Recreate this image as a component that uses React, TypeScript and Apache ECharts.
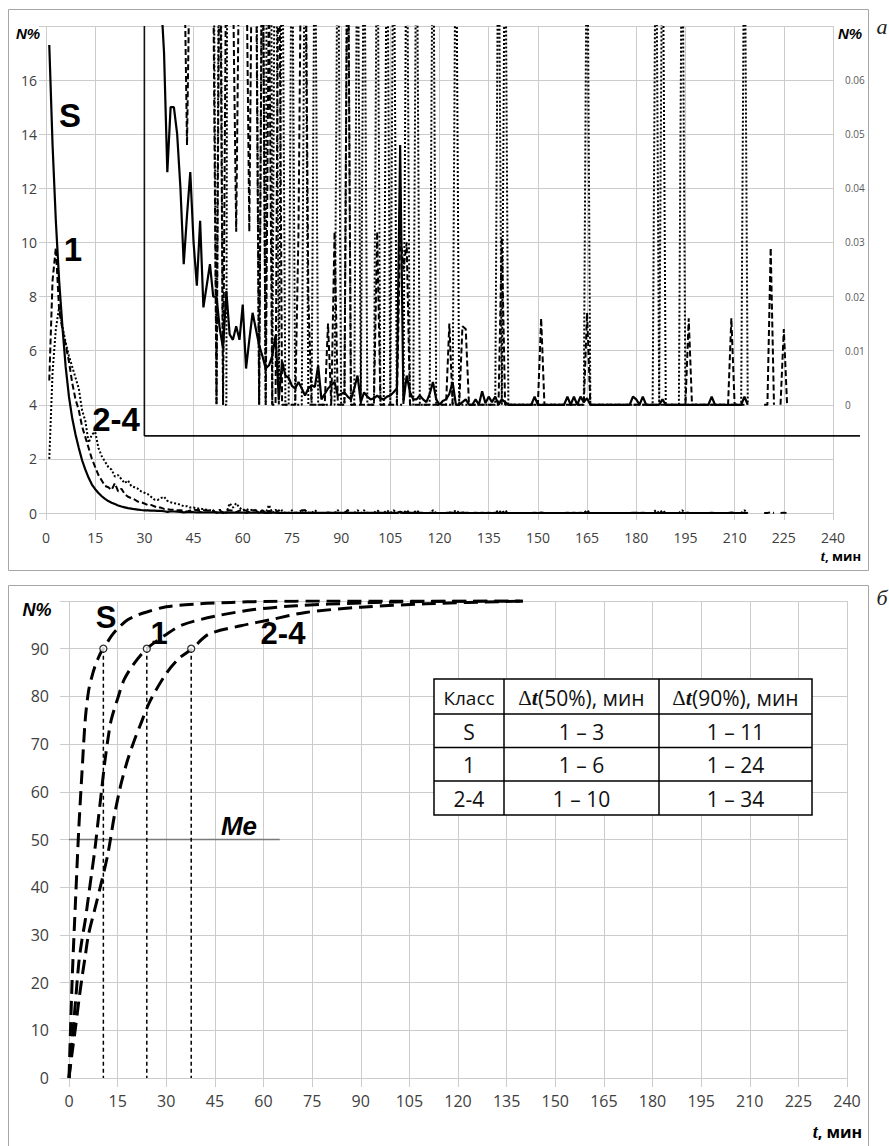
import React, { useEffect, useRef } from "react";
import * as echarts from "echarts";

const FONT = "'Open Sans', 'DejaVu Sans', sans-serif";
const ARIAL = "'Liberation Sans', Arial, sans-serif";
const SERIF = "'Liberation Serif', 'DejaVu Serif', serif";
const INK = "#000";
const GRIDC = "#cccccc";
const LABEL = "#404040";

// ---------- panel а: share N% per minute, t = 1, 2, 3 ... min ----------
const topTimeStart = 1;
const shareS = [
  17.3, 13.6, 10.8, 8.6, 6.9, 5.4, 4.3, 3.5, 2.9, 2.4,
  1.95, 1.6, 1.3, 1.05, 0.88, 0.74, 0.62, 0.52, 0.44, 0.38,
  0.33, 0.28, 0.24, 0.21, 0.18, 0.16, 0.14, 0.125, 0.11, 0.1,
  0.095, 0.09, 0.085, 0.08, 0.076, 0.065, 0.043, 0.055, 0.055, 0.05,
  0.04, 0.026, 0.035, 0.043, 0.03, 0.022, 0.034, 0.018, 0.022, 0.026,
  0.02, 0.02, 0.014, 0.0105, 0.021, 0.013, 0.012, 0.0145, 0.012, 0.0185,
  0.0067, 0.012, 0.017, 0.014, 0.011, 0.009, 0.0067, 0.0073, 0.009, 0.0128,
  0.001, 0.008, 0.0054, 0.005, 0.0035, 0.003, 0.0042, 0.003, 0.0017, 0.003,
  0.0036, 0.0033, 0.0073, 0.001, 0.002, 0.003, 0.0036, 0.0042, 0.0017, 0.002,
  0.0023, 0.0015, 0.001, 0.003, 0.0054, 0.0005, 0.0023, 0.0015, 0.001, 0.0012,
  0.0017, 0.0012, 0.001, 0.0015, 0.0017, 0.0023, 0.003, 0.048, 0.0005, 0.0054,
  0.0023, 0.001, 0.001, 0.0017, 0.001, 0.0005, 0.002, 0.0042, 0.001, 0,
  0.0007, 0.001, 0.002, 0.0042, 0, 0, 0.0005, 0.001, 0, 0,
  0.001, 0, 0.0025, 0.0003, 0.0015, 0.0005, 0.0015, 0, 0.001, 0.0005,
  0, 0, 0, 0, 0, 0, 0, 0, 0.0015, 0,
  0, 0, 0, 0, 0, 0, 0, 0, 0.0015, 0,
  0.0015, 0, 0.0015, 0.0005, 0.0012, 0, 0, 0, 0, 0,
  0, 0, 0, 0, 0, 0, 0, 0, 0.0015, 0.001,
  0, 0.0015, 0, 0, 0, 0, 0, 0.001, 0, 0,
  0, 0, 0, 0, 0, 0, 0, 0, 0, 0,
  0, 0, 0.0015, 0, 0, 0, 0, 0, 0, 0,
  0, 0, 0.0015, 0,
];
const share1 = [
  4.9, 8.6, 9.8, 7.5, 6.8, 6.2, 5.6, 4.8, 4.2, 3.8,
  3.2, 2.8, 2.4, 2.0, 1.7, 1.4, 1.2, 1.0, 0.95, 0.85,
  1.1, 0.8, 0.9, 0.7, 0.6, 0.55, 0.5, 0.42, 0.4, 0.35,
  0.3, 0.3, 0.25, 0.2, 0.2, 0.15, 0.14, 0.12, 0.12, 0.1,
  0.1, 0.09, 0.048, 0.09, 0.12, 0.11, 0.1, 0.1, 0.09, 0.09,
  0.08, 0, 0.1, 0, 0.09, 0.1, 0.08, 0.032, 0.09, 0.1,
  0.09, 0.032, 0.1, 0.09, 0, 0.1, 0, 0.08, 0, 0,
  0.1, 0, 0, 0, 0, 0, 0.032, 0.1, 0.1, 0.02,
  0, 0, 0, 0, 0, 0.015, 0, 0.032, 0, 0,
  0, 0.1, 0, 0, 0, 0, 0, 0, 0, 0,
  0.032, 0, 0, 0, 0, 0, 0, 0.032, 0.025, 0.03,
  0, 0, 0, 0, 0, 0, 0, 0, 0, 0,
  0, 0, 0.015, 0, 0, 0, 0.0145, 0.014, 0, 0,
  0, 0, 0, 0, 0, 0, 0, 0, 0.031, 0,
  0, 0, 0, 0, 0, 0, 0, 0, 0, 0,
  0.016, 0, 0, 0, 0, 0, 0, 0, 0, 0,
  0, 0, 0, 0, 0.017, 0, 0, 0, 0, 0,
  0, 0, 0, 0, 0, 0, 0, 0, 0, 0,
  0, 0, 0, 0, 0, 0, 0, 0, 0, 0,
  0, 0, 0, 0, 0, 0.016, 0, 0, 0, 0,
  0, 0, 0, 0, 0, 0, 0, 0, 0.016, 0,
  0, 0, 0, null, null, null, null, null, 0, 0,
  0.029, 0, null, 0, 0.014, 0,
];
const share24 = [
  2.0, 5.2, 6.8, 7.6, 6.9, 6.3, 5.8, 5.4, 5.0, 4.6,
  3.8, 3.4, 2.6, 2.9, 3.0, 2.4, 2.1, 1.9, 1.7, 1.6,
  1.35, 1.4, 1.25, 1.1, 1.2, 1.0, 0.95, 0.9, 0.8, 0.75,
  0.7, 0.6, 0.5, 0.48, 0.55, 0.6, 0.45, 0.4, 0.36, 0.35,
  0.3, 0.25, 0.25, 0.2, 0.2, 0.17, 0.17, 0.14, 0.12, 0.1,
  0.1, 0, 0.12, 0, 0, 0.36, 0.2, 0.36, 0.2, 0.1,
  0.15, 0.1, 0.12, 0.1, 0, 0.1, 0, 0.3, 0, 0.12,
  0, 0.1, 0, 0, 0.1, 0, 0, 0, 0.1, 0,
  0, 0.1, 0, 0, 0, 0, 0, 0, 0.1, 0,
  0, 0.1, 0, 0, 0.1, 0, 0.1, 0, 0, 0,
  0.1, 0, 0, 0.1, 0, 0.1, 0, 0, 0, 0.1,
  0, 0, 0.1, 0, 0, 0, 0, 0.1, 0, 0,
  0, 0, 0, 0, 0.1, 0, 0, 0, 0, 0,
  0, 0, 0, 0, 0, 0, 0, 0.1, 0, 0.1,
  0, 0, 0, 0, 0, 0, 0, 0, 0, 0,
  0, 0, 0, 0, 0, 0, 0, 0, 0, 0,
  0, 0, 0, 0, 0.1, 0, 0, 0, 0, 0,
  0, 0, 0, 0, 0, 0, 0, 0, 0, 0,
  0, 0, 0, 0, 0, 0.1, 0, 0.1, 0, 0,
  0, 0, 0, 0.1, 0, 0, 0, 0, 0, 0,
  0, 0, 0, 0, 0, 0, 0, 0, 0, 0,
  0, 0, 0.1, 0,
];
const timeAxis = { min: 0, max: 240, step: 15 };
const topLeftAxis = { min: 0, max: 18, step: 2 };
const topRightAxis = { min: -0.02, max: 0.07, step: 0.01, labelMax: 0.06 };
const insetFrame = { t: 30, level: 2.85 };

// ---------- panel б: cumulative N% ----------
const cumTimesS = [0, 1, 2, 3, 4, 5, 6, 7, 8, 9, 10, 11, 13, 15, 18, 21, 24, 30, 40, 50, 60, 80, 100, 120, 140];
const cumS = [0, 21, 37, 52, 64, 75, 81, 84, 86.3, 88, 89.4, 90.4, 92.6, 94.2, 96, 97, 97.7, 98.8, 99.4, 99.7, 99.9, 100, 100, 100, 100];
const cumTimes1 = [0, 1, 2, 3, 4, 5, 6, 7, 8, 9, 10, 11, 12, 13, 15, 17, 20, 24, 30, 35, 45, 57, 70, 90, 110, 140];
const cum1 = [0, 8, 16, 24, 29, 33, 38, 43, 48, 54, 60, 66, 71, 75, 79.5, 83.5, 86.8, 90, 93, 95, 96.8, 98.2, 99, 99.6, 99.9, 100];
const cumTimes24 = [0, 1, 2, 3, 4, 5, 6, 8, 10, 12, 14, 16, 18, 20, 22, 25, 30, 34, 38, 43, 53, 63, 73, 90, 110, 140];
const cum24 = [0, 5.5, 10.5, 16, 21, 25.5, 30, 35.5, 41, 47, 55, 61.5, 66.5, 70.5, 74, 79, 84.8, 88, 90, 93, 94.8, 96.2, 97.6, 98.7, 99.4, 100];
const p90Times = [10.6, 24, 37.7];
const p90Level = 90;
const medianLevel = 50;
const medianSpan = [0, 65];
const bottomYAxis = { min: 0, max: 100, step: 10 };
const tableHeader = ["Класс", "(50%), мин", "(90%), мин"];
const tableRows = [
  ["S", "1 – 3", "1 – 11"],
  ["1", "1 – 6", "1 – 24"],
  ["2-4", "1 – 10", "1 – 34"],
];

const perMinute = (vs: (number | null)[]) => vs.map((v, i) => [topTimeStart + i, v]);
const pairs = (ts: number[], vs: number[]) => ts.map((t, i) => [t, vs[i]]);

const solid = { color: INK, width: 2.2, type: "solid" as const };
const dashed = { color: INK, width: 2, type: [6, 3] as any };
const dotted = { color: INK, width: 2, type: [2, 2] as any };

function buildOption() {
  const timeX = (gridIndex: number, fontSize: number, margin: number, tick: number) => ({
    type: "value",
    gridIndex,
    min: timeAxis.min,
    max: timeAxis.max,
    interval: timeAxis.step,
    axisLine: { show: true, onZero: false, lineStyle: { color: GRIDC } },
    axisTick: { show: true, length: tick, lineStyle: { color: GRIDC } },
    axisLabel: { fontSize, color: LABEL, fontFamily: FONT, margin },
    splitLine: { show: true, lineStyle: { color: GRIDC, width: 1 } },
  });
  const line = (name: string, xi: number, yi: number, data: any[], ls: any, z = 2) => ({
    name,
    type: "line",
    xAxisIndex: xi,
    yAxisIndex: yi,
    data,
    symbol: "none",
    lineStyle: ls,
    connectNulls: false,
    clip: true,
    z,
    silent: true,
  });
  const series: any[] = [
    line("2-4", 0, 0, perMinute(share24), dotted, 2),
    line("1", 0, 0, perMinute(share1), dashed, 3),
    line("S", 0, 0, perMinute(shareS), solid, 4),
    line("2-4 x", 0, 1, perMinute(share24), dotted, 2),
    line("1 x", 0, 1, perMinute(share1), dashed, 3),
    line("S x", 0, 1, perMinute(shareS), solid, 4),
    line("Me", 1, 2, [[medianSpan[0], medianLevel], [medianSpan[1], medianLevel]], { color: "#7a7a7a", width: 1.3 }, 2),
  ];
  p90Times.forEach((t, i) => {
    series.push(line("drop" + i, 1, 2, [[t, p90Level], [t, 0]], { color: INK, width: 1.5, type: [4, 3] }, 3));
  });
  const cumStyle = { color: INK, width: 3, type: [14, 7] as any };
  series.push({ ...line("S cum", 1, 2, pairs(cumTimesS, cumS), cumStyle, 4), smooth: 0.3 });
  series.push({ ...line("1 cum", 1, 2, pairs(cumTimes1, cum1), cumStyle, 4), smooth: 0.3 });
  series.push({ ...line("2-4 cum", 1, 2, pairs(cumTimes24, cum24), cumStyle, 4), smooth: 0.3 });
  series.push({
    type: "scatter",
    xAxisIndex: 1,
    yAxisIndex: 2,
    data: p90Times.map((t) => [t, p90Level]),
    symbol: "circle",
    symbolSize: 7,
    itemStyle: { color: "#fff", borderColor: INK, borderWidth: 1.3 },
    z: 6,
    silent: true,
  });

  return {
    animation: false,
    backgroundColor: "#fff",
    grid: [
      { left: 46, top: 26, width: 787, height: 487, containLabel: false },
      { left: 69, top: 601, width: 778, height: 477, containLabel: false },
    ],
    xAxis: [timeX(0, 14, 17, 7), timeX(1, 16, 15, 9)],
    yAxis: [
      {
        type: "value",
        gridIndex: 0,
        position: "left",
        min: topLeftAxis.min,
        max: topLeftAxis.max,
        interval: topLeftAxis.step,
        axisLine: { show: false },
        axisTick: { show: true, length: 7, lineStyle: { color: GRIDC } },
        axisLabel: {
          fontSize: 14,
          color: LABEL,
          fontFamily: FONT,
          margin: 9,
          formatter: (v: number) => (v >= topLeftAxis.max ? "" : String(v)),
        },
        splitLine: { show: true, lineStyle: { color: GRIDC } },
      },
      {
        type: "value",
        gridIndex: 0,
        position: "right",
        min: topRightAxis.min,
        max: topRightAxis.max,
        interval: topRightAxis.step,
        axisLine: { show: false },
        axisTick: { show: false },
        axisLabel: {
          fontSize: 10,
          color: "#595959",
          fontFamily: FONT,
          margin: 12,
          formatter: (v: number) =>
            v < -1e-9 || v > topRightAxis.labelMax + 1e-9 ? "" : Math.abs(v) < 1e-9 ? "0" : v.toFixed(2),
        },
        splitLine: { show: false },
      },
      {
        type: "value",
        gridIndex: 1,
        min: bottomYAxis.min,
        max: bottomYAxis.max,
        interval: bottomYAxis.step,
        axisLine: { show: false },
        axisTick: { show: true, length: 9, lineStyle: { color: GRIDC } },
        axisLabel: {
          fontSize: 16,
          color: LABEL,
          fontFamily: FONT,
          margin: 20,
          formatter: (v: number) => (v >= bottomYAxis.max ? "" : String(v)),
        },
        splitLine: { show: true, lineStyle: { color: GRIDC } },
      },
    ],
    series,
  };
}

const txt = (text: string, x: number, y: number, s: any) => ({
  type: "text",
  x,
  y,
  z: 60,
  silent: true,
  style: { text, fill: INK, align: "center", verticalAlign: "middle", ...s },
});

function buildGraphic(a: number[], b: number[], frameRight: number) {
  const bigBold = { fontFamily: ARIAL, fontWeight: "bold", fontSize: 33 };
  const bigBold2 = { fontFamily: ARIAL, fontWeight: "bold", fontSize: 31 };
  const nLabel = (x: number, y: number, fs: number) =>
    txt("N%", x, y, { fontFamily: ARIAL, fontWeight: "bold", fontStyle: "italic", fontSize: fs });
  const tLabel = (x: number, y: number, fs: number) => ({
    type: "text",
    x,
    y,
    z: 60,
    silent: true,
    style: {
      text: "{t|t}{m|, мин}",
      align: "right",
      verticalAlign: "middle",
      fill: INK,
      rich: {
        t: { fontFamily: SERIF, fontStyle: "italic", fontWeight: "bold", fontSize: fs + 2, fill: INK },
        m: { fontFamily: FONT, fontWeight: "bold", fontSize: fs, fill: INK },
      },
    },
  });

  // table
  const colX = [434, 504, 659, 812];
  const rowY = [679, 714, 747.5, 781, 815];
  const tfs = 21;
  const tbl: any[] = [
    {
      type: "rect",
      z: 70,
      silent: true,
      shape: { x: colX[0], y: rowY[0], width: colX[3] - colX[0], height: rowY[4] - rowY[0] },
      style: { fill: "#fff", stroke: INK, lineWidth: 1.5 },
    },
  ];
  for (let i = 1; i < colX.length - 1; i++)
    tbl.push({ type: "line", z: 71, silent: true, shape: { x1: colX[i], y1: rowY[0], x2: colX[i], y2: rowY[4] }, style: { stroke: INK, lineWidth: 1.5 } });
  for (let j = 1; j < rowY.length - 1; j++)
    tbl.push({ type: "line", z: 71, silent: true, shape: { x1: colX[0], y1: rowY[j], x2: colX[3], y2: rowY[j] }, style: { stroke: INK, lineWidth: 1.5 } });
  const cx = (i: number) => (colX[i] + colX[i + 1]) / 2;
  const cy = (j: number) => (rowY[j] + rowY[j + 1]) / 2 + 1;
  const cell = (text: string, i: number, j: number, fs = tfs) => ({ ...txt(text, cx(i), cy(j), { fontFamily: FONT, fontSize: fs, fill: "#111" }), z: 72 });
  tbl.push(cell(tableHeader[0], 0, 0, 19));
  [1, 2].forEach((i) =>
    tbl.push({
      type: "text",
      x: cx(i),
      y: cy(0),
      z: 72,
      silent: true,
      style: {
        text: "{d|Δ}{t|t}{n|" + tableHeader[i] + "}",
        align: "center",
        verticalAlign: "middle",
        rich: {
          d: { fontFamily: SERIF, fontSize: tfs, fill: "#111" },
          t: { fontFamily: SERIF, fontStyle: "italic", fontWeight: "bold", fontSize: tfs + 1, fill: "#111" },
          n: { fontFamily: FONT, fontSize: tfs, fill: "#111" },
        },
      },
    })
  );
  tableRows.forEach((r, j) => r.forEach((c, i) => tbl.push(cell(c, i, j + 1))));

  return [
    { type: "rect", z: 1, silent: true, shape: { x: 8.5, y: 9.5, width: 860, height: 561 }, style: { fill: "none", stroke: "#a6a6a6", lineWidth: 1 } },
    { type: "rect", z: 1, silent: true, shape: { x: 8.5, y: 585.5, width: 860, height: 580 }, style: { fill: "none", stroke: "#a6a6a6", lineWidth: 1 } },
    // inset frame
    { type: "line", z: 50, silent: true, shape: { x1: a[0], y1: b[1], x2: a[0], y2: a[1] }, style: { stroke: "#111", lineWidth: 1.6 } },
    { type: "line", z: 50, silent: true, shape: { x1: a[0], y1: a[1], x2: frameRight, y2: a[1] }, style: { stroke: "#111", lineWidth: 1.6 } },
    // panel а labels
    txt("S", 70, 115, bigBold),
    txt("1", 73, 249, bigBold),
    txt("2-4", 116, 419, bigBold),
    nLabel(28, 33, 15),
    nLabel(850, 33, 15),
    tLabel(861, 556, 13),
    txt("а", 882, 26, { fontFamily: SERIF, fontStyle: "italic", fontSize: 22, fill: "#222" }),
    // panel б labels
    txt("S", 106, 617, bigBold2),
    txt("1", 159, 633, bigBold2),
    txt("2-4", 283, 633, bigBold2),
    txt("Me", 239, 826, { fontFamily: ARIAL, fontWeight: "bold", fontStyle: "italic", fontSize: 26 }),
    nLabel(37, 610, 18),
    tLabel(862, 1132, 16),
    txt("б", 882, 597, { fontFamily: SERIF, fontStyle: "italic", fontSize: 22, fill: "#222" }),
    ...tbl,
  ];
}

export default function App() {
  const ref = useRef<HTMLDivElement>(null);
  useEffect(() => {
    document.body.style.margin = "0";
    const chart = echarts.init(ref.current!, null, { renderer: "svg" });
    chart.setOption(buildOption() as any);
    const a = chart.convertToPixel({ xAxisIndex: 0, yAxisIndex: 0 } as any, [insetFrame.t, insetFrame.level]) as number[];
    const b = chart.convertToPixel({ xAxisIndex: 0, yAxisIndex: 0 } as any, [insetFrame.t, topLeftAxis.max]) as number[];
    const right = chart.convertToPixel({ xAxisIndex: 0, yAxisIndex: 0 } as any, [timeAxis.max, 0]) as number[];
    chart.setOption({ graphic: buildGraphic(a, b, right[0] + 27) } as any);
    return () => chart.dispose();
  }, []);
  return <div ref={ref} style={{ width: 889, height: 1146 }} />;
}
